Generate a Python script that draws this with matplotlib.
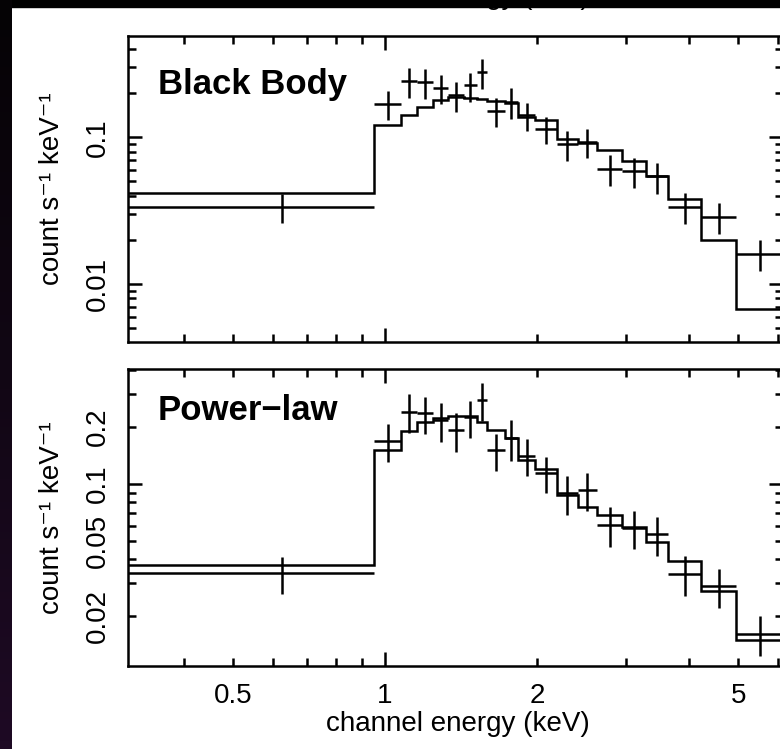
import numpy as np
import matplotlib
matplotlib.use('Agg')
import matplotlib.pyplot as plt
from matplotlib.ticker import FixedLocator, FuncFormatter
from matplotlib.patches import Rectangle

plt.rcParams['font.family'] = ['Liberation Sans', 'DejaVu Sans']

# channel bin edges (keV)
edges = [0.30, 0.951, 1.074, 1.155, 1.244, 1.334, 1.430, 1.521, 1.592, 1.724, 1.829,
         1.981, 2.185, 2.405, 2.624, 2.940, 3.280, 3.626, 4.214, 4.945, 6.10]

# observed rate and 1 sigma errors (count s^-1 keV^-1)
rate = [0.0336, 0.1695, 0.242, 0.237, 0.2175, 0.193, 0.2255, 0.278, 0.151, 0.175,
        0.1415, 0.114, 0.0895, 0.0928, 0.061, 0.0587, 0.0541, 0.0335, 0.0287, 0.0161]
rate_err = [0.0076, 0.038, 0.0566, 0.0535, 0.050, 0.045, 0.051, 0.063, 0.034, 0.042,
            0.031, 0.0242, 0.021, 0.021, 0.0144, 0.0136, 0.0128, 0.008, 0.0067, 0.0039]

# folded models
bbody_model = [0.0419, 0.1213, 0.1419, 0.1617, 0.1782, 0.1891, 0.1862, 0.1816, 0.1781, 0.1713,
               0.1382, 0.1312, 0.0969, 0.0919, 0.0819, 0.0693, 0.0545, 0.0378, 0.0201, 0.00672]
powerlaw_model = [0.0372, 0.1514, 0.1909, 0.2138, 0.2228, 0.2292, 0.2292, 0.2138, 0.1932, 0.1746,
                  0.1340, 0.1196, 0.0875, 0.0753, 0.0685, 0.0590, 0.0495, 0.0392, 0.0272, 0.0149]

panel_names = ['Black Body', 'Power\u2212law']
top_ylabels = [0.01, 0.1]
bottom_ylabels = [0.02, 0.05, 0.1, 0.2]
xlabels = [0.5, 1, 2, 5]

W, H = 780, 749
fig = plt.figure(figsize=(W / 100, H / 100), dpi=100)

lw = 1.8
decades = [10.0 ** e for e in range(-3, 2)]
minors = [m * d for d in decades for m in range(2, 10)]


def px_axes(left, top, right, bottom):
    return fig.add_axes([left / W, 1 - bottom / H, (right - left) / W, (bottom - top) / H])


def setup(ax, ylim, ylab_vals, show_x):
    ax.set_xscale('log')
    ax.set_yscale('log')
    ax.set_xlim(0.310, 6.128)
    ax.set_ylim(*ylim)
    for a in (ax.xaxis, ax.yaxis):
        a.set_major_locator(FixedLocator(decades))
        a.set_minor_locator(FixedLocator(minors))
    yf = FuncFormatter(lambda v, p: ('%g' % v) if any(abs(v / t - 1) < 1e-6 for t in ylab_vals) else '')
    ax.yaxis.set_major_formatter(yf)
    ax.yaxis.set_minor_formatter(yf)
    if show_x:
        xf = FuncFormatter(lambda v, p: ('%g' % v) if any(abs(v / t - 1) < 1e-6 for t in xlabels) else '')
    else:
        xf = FuncFormatter(lambda v, p: '')
    ax.xaxis.set_major_formatter(xf)
    ax.xaxis.set_minor_formatter(xf)
    ax.tick_params(which='both', direction='in', top=True, right=True, width=lw,
                   labelsize=20, pad=12.5, color='k', labelcolor='k')
    ax.tick_params(which='major', length=10)
    ax.tick_params(which='minor', length=5.5)
    ax.tick_params(axis='y', which='both', labelrotation=90)
    for s in ax.spines.values():
        s.set_linewidth(lw)
    for lbl in ax.get_yticklabels(which='both'):
        lbl.set_va('center')
        lbl.set_ha('right')


edges_a = np.array(edges)
centers = (edges_a[:-1] + edges_a[1:]) / 2
halfw = (edges_a[1:] - edges_a[:-1]) / 2

ax1 = px_axes(128, 35.7, 783, 342.3)
ax2 = px_axes(128, 369.3, 783, 665.7)

for ax, model, name, ylim, ylv, showx in [
        (ax1, bbody_model, panel_names[0], (0.004005, 0.4927), top_ylabels, False),
        (ax2, powerlaw_model, panel_names[1], (0.0109, 0.405), bottom_ylabels, True)]:
    ax.stairs(model, edges, baseline=None, color='k', lw=lw)
    ax.errorbar(centers, rate, xerr=halfw, yerr=rate_err, fmt='none', ecolor='k',
                elinewidth=lw, capsize=0)
    setup(ax, ylim, ylv, showx)
    ax.set_ylabel('count s\u207b\u00b9 keV\u207b\u00b9', fontsize=20)
    ax.yaxis.set_label_coords(-0.096, 0.5)
    ax.text(30 / 655, 0.81 if ax is ax1 else 0.829, name, transform=ax.transAxes,
            fontsize=25, fontweight='bold', va='baseline', ha='left')

ax2.set_xlabel('channel energy (keV)', fontsize=20)
ax2.xaxis.set_label_coords(0.504, -0.1545)

# remnant label from the panel above, mostly hidden under the dark border
fig.text(458 / W, 1 - 4 / H, 'channel energy (keV)', fontsize=20, ha='center',
         va='baseline', zorder=1)
fig.add_artist(Rectangle((0, 1 - 7 / H), 1, 7 / H, transform=fig.transFigure,
                         color='black', zorder=10))
bg = fig.add_axes([0, 0, 12 / W, 1], zorder=10)
grad = np.linspace(0, 1, 100)[:, None]
bg.imshow(grad, aspect='auto', cmap=matplotlib.colors.LinearSegmentedColormap.from_list(
    'edge', ['#050305', '#1e0a24']), extent=[0, 1, 1, 0])
bg.set_axis_off()

fig.savefig('out.png', dpi=100)
